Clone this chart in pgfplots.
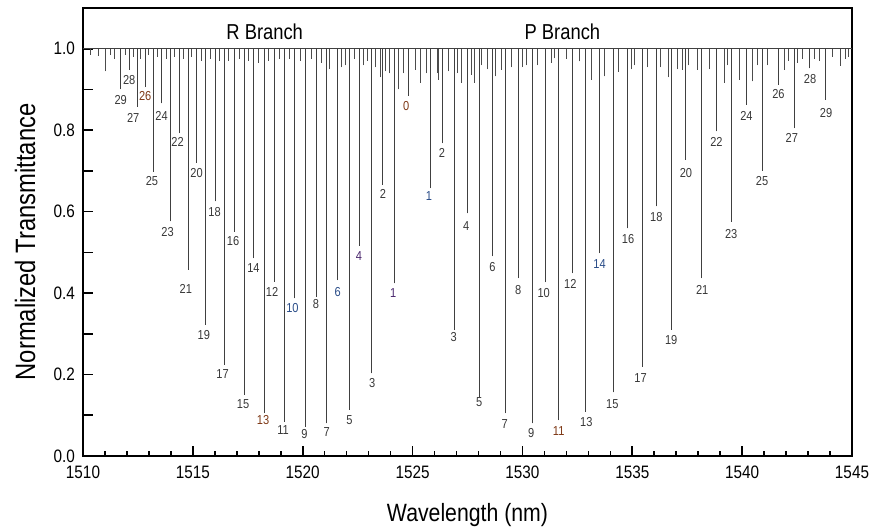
\documentclass[border=0pt]{standalone}
\usepackage{fontspec}
\setmainfont{Liberation Sans}[FakeStretch=0.85]
\usepackage{pgfplots}
\usepackage{pgfplotstable}
\pgfplotsset{compat=1.18}

\definecolor{labgray}{RGB}{55,55,55}
\definecolor{labbrown}{RGB}{125,55,20}
\definecolor{labpurple}{RGB}{75,40,110}
\definecolor{labblue}{RGB}{40,75,135}
\tikzset{lab/.style={font=\fontsize{6.5}{7}\selectfont, inner sep=0pt}}

% Main rovibrational lines: wavelength (nm), transmittance at line centre
\pgfplotstableread{
lam T
1511.71 0.901
1512.10 0.948
1512.47 0.857
1512.82 0.906
1513.20 0.698
1513.57 0.866
1513.99 0.576
1514.38 0.793
1514.79 0.457
1515.17 0.720
1515.59 0.322
1516.03 0.625
1516.45 0.224
1516.88 0.551
1517.33 0.150
1517.77 0.486
1518.24 0.105
1518.70 0.428
1519.17 0.084
1519.64 0.387
1520.14 0.072
1520.62 0.391
1521.09 0.080
1521.58 0.432
1522.11 0.113
1522.59 0.516
1523.14 0.203
1523.65 0.666
1524.17 0.424
1524.80 0.885
1525.80 0.658
1526.35 0.768
1526.91 0.310
1527.49 0.596
1528.06 0.146
1528.65 0.491
1529.23 0.105
1529.82 0.437
1530.44 0.080
1531.03 0.427
1531.65 0.088
1532.26 0.449
1532.89 0.109
1533.51 0.498
1534.15 0.156
1534.80 0.559
1535.47 0.219
1536.12 0.613
1536.80 0.310
1537.44 0.727
1538.15 0.437
1538.85 0.797
1539.51 0.575
1540.20 0.862
1540.92 0.700
1541.65 0.912
1542.36 0.805
1543.08 0.952
1543.80 0.875
}\strong

% Weak (hot-band) lines
\pgfplotstableread{
lam T
1510.33 0.985
1510.68 0.983
1511.03 0.945
1511.25 0.985
1511.45 0.975
1511.95 0.985
1512.28 0.980
1512.62 0.975
1512.98 0.985
1513.38 0.980
1513.78 0.975
1514.15 0.980
1514.55 0.975
1514.95 0.980
1515.38 0.970
1515.78 0.975
1516.20 0.970
1516.60 0.970
1517.10 0.975
1517.55 0.970
1518.00 0.965
1518.45 0.970
1518.92 0.975
1519.38 0.975
1519.88 0.970
1520.38 0.975
1520.85 0.965
1521.20 0.950
1521.77 0.955
1521.96 0.960
1522.35 0.975
1522.78 0.960
1522.95 0.970
1523.32 0.955
1523.52 0.930
1523.77 0.945
1523.95 0.940
1524.36 0.900
1524.59 0.940
1525.12 0.948
1525.35 0.916
1525.65 0.940
1526.11 0.940
1526.18 0.924
1526.64 0.945
1527.02 0.940
1527.24 0.916
1527.70 0.936
1527.82 0.916
1528.15 0.960
1528.40 0.950
1528.76 0.932
1529.06 0.948
1529.50 0.955
1529.98 0.955
1530.20 0.960
1530.70 0.960
1531.30 0.965
1531.47 0.977
1532.00 0.975
1532.61 0.969
1533.14 0.924
1533.74 0.932
1534.35 0.944
1534.95 0.950
1535.10 0.960
1535.70 0.955
1536.30 0.955
1536.65 0.930
1537.05 0.950
1537.30 0.948
1537.55 0.960
1537.97 0.948
1538.50 0.950
1539.18 0.916
1539.33 0.960
1539.86 0.924
1540.47 0.920
1540.70 0.960
1541.15 0.960
1541.91 0.948
1542.10 0.970
1542.52 0.965
1542.75 0.975
1543.30 0.975
1543.50 0.970
1544.10 0.980
1544.48 0.958
1544.71 0.975
1544.85 0.980
}\weak

\newcommand{\lab}[4][labgray]{\node[lab, text=#1] at (axis cs:#2,#3) {#4};}

\begin{document}
\begin{tikzpicture}
\useasboundingbox (-41.5pt,-37.5pt) rectangle (396.5pt,228pt);
\begin{axis}[
  scale only axis,
  width=384.5pt, height=224pt,
  xmin=1510, xmax=1545, ymin=0, ymax=1.1,
  xtick={1510,1515,1520,1525,1530,1535,1540,1545},
  minor x tick num=4,
  ytick={0,0.1,0.2,0.3,0.4,0.5,0.6,0.7,0.8,0.9,1.0},
  yticklabels={0.0,,0.2,,0.4,,0.6,,0.8,,1.0},
  tick pos=left, tick align=inside,
  major tick length=5pt, minor tick length=2.5pt,
  every tick/.style={black, line width=0.8pt},
  axis line style={line width=1pt},
  /pgf/number format/assume math mode=true,
  /pgf/number format/1000 sep={},
  yticklabel style={xshift=-0.5pt},
  xticklabel style={yshift=-1.5pt},
  tick label style={font=\fontsize{9}{10.5}\selectfont},
  xlabel={Wavelength (nm)},
  ylabel={Normalized Transmittance},
  xlabel style={font=\fontsize{12.5}{14}\selectfont, at={(axis description cs:0.5,-0.1317)}, anchor=center},
  ylabel style={font=\fontsize{14}{16}\selectfont, at={(axis description cs:-0.0754,0.478)}, anchor=center},
]
% flat baseline of the normalized spectrum
\addplot[black!75, line width=0.45pt] coordinates {(1510,1) (1545,1)};
% weak lines
\addplot[only marks, mark=*, mark size=0pt, mark options={draw=none, fill=none},
  error bars/.cd, y dir=plus, y explicit, error mark=none,
  error bar style={line width=0.4pt, black!70}]
  table[x=lam, y=T, y error expr=1-\thisrow{T}] {\weak};
% main lines
\addplot[only marks, mark=*, mark size=0pt, mark options={draw=none, fill=none},
  error bars/.cd, y dir=plus, y explicit, error mark=none,
  error bar style={line width=0.45pt, black!75}]
  table[x=lam, y=T, y error expr=1-\thisrow{T}] {\strong};

\node[font=\fontsize{10.8}{12}\selectfont] at (axis cs:1518.27,1.042) {R Branch};
\node[font=\fontsize{10.8}{12}\selectfont] at (axis cs:1531.82,1.042) {P Branch};

% R branch
\lab{1511.714}{0.875}{29}
\lab{1512.105}{0.922}{28}
\lab{1512.286}{0.830}{27}
\lab[labbrown]{1512.832}{0.885}{26}
\lab{1513.136}{0.676}{25}
\lab{1513.577}{0.836}{24}
\lab{1513.85}{0.549}{23}
\lab{1514.305}{0.770}{22}
\lab{1514.682}{0.410}{21}
\lab{1515.168}{0.696}{20}
\lab{1515.5}{0.296}{19}
\lab{1515.986}{0.600}{18}
\lab{1516.35}{0.201}{17}
\lab{1516.832}{0.527}{16}
\lab{1517.286}{0.127}{15}
\lab{1517.759}{0.461}{14}
\lab[labbrown]{1518.195}{0.088}{13}
\lab{1518.605}{0.404}{12}
\lab{1519.105}{0.064}{11}
\lab[labblue]{1519.532}{0.364}{10}
\lab{1520.077}{0.054}{9}
\lab{1520.605}{0.373}{8}
\lab{1521.091}{0.058}{7}
\lab[labblue]{1521.591}{0.402}{6}
\lab{1522.123}{0.087}{5}
\lab[labpurple]{1522.559}{0.492}{4}
\lab{1523.168}{0.180}{3}
\lab{1523.65}{0.644}{2}
\lab[labpurple]{1524.123}{0.401}{1}
\lab[labbrown]{1524.714}{0.860}{0}
% P branch
\lab[labblue]{1525.741}{0.639}{1}
\lab{1526.332}{0.745}{2}
\lab{1526.877}{0.291}{3}
\lab{1527.441}{0.565}{4}
\lab{1528.032}{0.132}{5}
\lab{1528.636}{0.464}{6}
\lab{1529.195}{0.079}{7}
\lab{1529.805}{0.408}{8}
\lab{1530.395}{0.057}{9}
\lab{1530.968}{0.401}{10}
\lab[labbrown]{1531.65}{0.062}{11}
\lab{1532.182}{0.422}{12}
\lab{1532.909}{0.084}{13}
\lab[labblue]{1533.514}{0.472}{14}
\lab{1534.091}{0.127}{15}
\lab{1534.805}{0.533}{16}
\lab{1535.377}{0.192}{17}
\lab{1536.091}{0.586}{18}
\lab{1536.773}{0.285}{19}
\lab{1537.441}{0.696}{20}
\lab{1538.182}{0.408}{21}
\lab{1538.832}{0.770}{22}
\lab{1539.5}{0.545}{23}
\lab{1540.195}{0.836}{24}
\lab{1540.909}{0.676}{25}
\lab{1541.65}{0.889}{26}
\lab{1542.259}{0.782}{27}
\lab{1543.091}{0.926}{28}
\lab{1543.818}{0.843}{29}
\end{axis}
\end{tikzpicture}
\end{document}
